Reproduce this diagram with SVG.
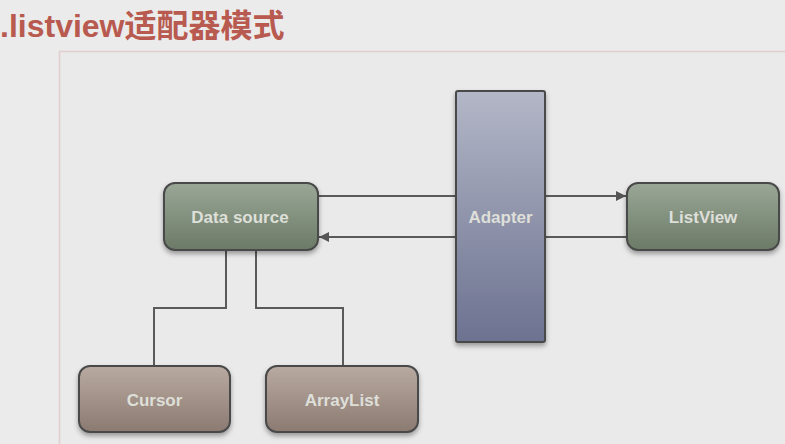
<svg xmlns="http://www.w3.org/2000/svg" width="785" height="444" viewBox="0 0 785 444">
<defs>
<linearGradient id="gGreen" x1="0" y1="0" x2="0" y2="1"><stop offset="0" stop-color="#9aa797"/><stop offset="1" stop-color="#6b7a66"/></linearGradient>
<linearGradient id="gBrown" x1="0" y1="0" x2="0" y2="1"><stop offset="0" stop-color="#b9aaa1"/><stop offset="1" stop-color="#8b7a70"/></linearGradient>
<linearGradient id="gBlue" x1="0" y1="0" x2="0" y2="1"><stop offset="0" stop-color="#b3b7c7"/><stop offset="1" stop-color="#6c7290"/></linearGradient>
<marker id="arr" viewBox="0 0 10 10" refX="10" refY="5" markerWidth="10" markerHeight="10" markerUnits="userSpaceOnUse" orient="auto"><path d="M0,0 L10,5 L0,10 z" fill="#555"/></marker>
<filter id="sh" x="-10%" y="-10%" width="130%" height="140%"><feDropShadow dx="0" dy="3" stdDeviation="2.5" flood-color="#000" flood-opacity="0.35"/></filter>
</defs>
<style>
.box{stroke:#4a4a4a;stroke-width:2;filter:url(#sh)}
.lbl{font-family:"Liberation Sans",Arial,sans-serif;font-weight:bold;font-size:17px;fill:#dedfd9;text-anchor:middle}
.ln{stroke:#5a5a5a;stroke-width:2;fill:none}
</style>
<rect width="785" height="444" fill="#ebebeb"/>
<rect x="59.5" y="51.5" width="740" height="400" fill="#eaeaea" stroke="#e2cdd0" stroke-width="1.5"/>
<text x="0" y="37" font-family="'Liberation Sans','Noto Sans CJK SC',sans-serif" font-weight="bold" font-size="32" fill="#b85a4f">.listview适配器模式</text>
<g id="connectors">
<line class="ln" x1="318" y1="196" x2="456" y2="196"/>
<line class="ln" x1="545" y1="196" x2="626" y2="196" marker-end="url(#arr)"/>
<line class="ln" x1="627" y1="237" x2="545" y2="237"/>
<line class="ln" x1="456" y1="237" x2="319" y2="237" marker-end="url(#arr)"/>
<polyline class="ln" points="226,250 226,308 154,308 154,366"/>
<polyline class="ln" points="256,250 256,308 343,308 343,366"/>
</g>
<g id="datasource"><rect class="box" x="164" y="183" width="154" height="67" rx="11" fill="url(#gGreen)"/><text class="lbl" x="240" y="223">Data source</text></g>
<g id="adapter"><rect class="box" x="456" y="91" width="89" height="251" rx="2" fill="url(#gBlue)"/><text class="lbl" x="500.5" y="223">Adapter</text></g>
<g id="listview"><rect class="box" x="627" y="183" width="152" height="67" rx="11" fill="url(#gGreen)"/><text class="lbl" x="703" y="223">ListView</text></g>
<g id="cursor"><rect class="box" x="79" y="366" width="151" height="66" rx="11" fill="url(#gBrown)"/><text class="lbl" x="154.5" y="406">Cursor</text></g>
<g id="arraylist"><rect class="box" x="266" y="366" width="152" height="66" rx="11" fill="url(#gBrown)"/><text class="lbl" x="342" y="406">ArrayList</text></g>
</svg>
